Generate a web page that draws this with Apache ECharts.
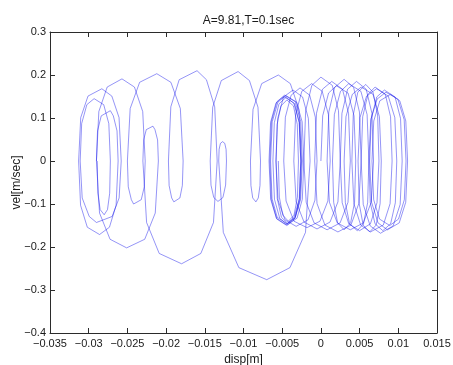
<!DOCTYPE html>
<html>
<head>
<meta charset="utf-8">
<script src="https://cdn.jsdelivr.net/npm/echarts@6/dist/echarts.min.js"></script>
<style>
  html, body { margin: 0; padding: 0; background: #fff; }
  #chart { width: 453px; height: 365px; }
</style>
</head>
<body>
<div id="chart"></div>
<script>
// Phase portrait: displacement [m] vs velocity [m/sec], A=9.81, T=0.1 sec.
const titleText = 'A=9.81,T=0.1sec';
const xName = 'disp[m]';
const yName = 'vel[m/sec]';

const X_MIN = -0.035, X_MAX = 0.015, X_STEP = 0.005;
const Y_MIN = -0.4, Y_MAX = 0.3, Y_STEP = 0.1;
const xTickLabels = ['\u22120.035', '\u22120.03', '\u22120.025', '\u22120.02', '\u22120.015', '\u22120.01', '\u22120.005', '0', '0.005', '0.01', '0.015'];
const yTickLabels = ['\u22120.4', '\u22120.3', '\u22120.2', '\u22120.1', '0', '0.1', '0.2', '0.3'];

// [disp, vel] samples, in time order.
// Cycles that creep to the right of the origin.
const driftOut = [
  [0, 0], [0.00023, 0.105], [0.00099, 0.158], [0.0020, 0.175], [0.00351, 0.158], [0.00428, 0.105],
  [0.0045, 0], [0.00435, -0.096], [0.00384, -0.144], [0.0030, -0.160], [0.00216, -0.144], [0.00165, -0.096],
  [0.0015, 0], [0.00174, 0.108], [0.00253, 0.162], [0.0036, 0.180], [0.00517, 0.162], [0.00597, 0.108],
  [0.0062, 0], [0.00604, -0.097], [0.0055, -0.146], [0.0047, -0.162], [0.0037, -0.146], [0.00316, -0.097],
  [0.0030, 0], [0.00324, 0.103], [0.00406, 0.155], [0.0052, 0.172], [0.00674, 0.155], [0.00756, 0.103],
  [0.0078, 0], [0.00765, -0.099], [0.00714, -0.149], [0.0063, -0.165], [0.00546, -0.149], [0.00495, -0.099],
  [0.0048, 0], [0.00505, 0.101], [0.0059, 0.151], [0.0072, 0.168], [0.0087, 0.151], [0.00955, 0.101],
  [0.0098, 0], [0.00962, -0.097], [0.00901, -0.146], [0.0080, -0.162], [0.00699, -0.146], [0.00638, -0.097],
  [0.0062, 0], [0.00644, 0.096], [0.00726, 0.144], [0.0084, 0.160], [0.00994, 0.144], [0.01076, 0.096],
  [0.0110, 0], [0.01078, -0.090], [0.01003, -0.135], [0.0089, -0.150], [0.00757, -0.135], [0.00682, -0.090],
  [0.0066, 0], [0.00683, 0.093], [0.00761, 0.140], [0.0090, 0.155], [0.01019, 0.140], [0.01097, 0.093],
  [0.0112, 0], [0.01096, -0.096], [0.01012, -0.144], [0.0086, -0.160], [0.00738, -0.144], [0.00655, -0.096],
  [0.0063, 0], [0.00651, 0.099], [0.00722, 0.149], [0.0082, 0.165], [0.00958, 0.149], [0.01029, 0.099],
  [0.0105, 0], [0.01024, -0.101], [0.00933, -0.151], [0.0077, -0.168], [0.00637, -0.151], [0.00547, -0.101],
  [0.0052, 0], [0.0054, 0.103], [0.00608, 0.155], [0.0070, 0.172], [0.00832, 0.155], [0.0090, 0.103],
  [0.0092, 0], [0.00894, -0.099], [0.00806, -0.149], [0.0064, -0.165], [0.00514, -0.149], [0.00426, -0.099]
];

// Cycles creeping back to the left.
const driftBack = [
  [0.0040, 0], [0.00418, 0.107], [0.00477, 0.160], [0.0058, 0.178], [0.00673, 0.160], [0.00733, 0.107],
  [0.0075, 0], [0.00725, -0.097], [0.0064, -0.146], [0.0050, -0.162], [0.0036, -0.146], [0.00275, -0.097],
  [0.0025, 0], [0.00272, 0.111], [0.00345, 0.167], [0.0046, 0.185], [0.00585, 0.167], [0.00659, 0.111],
  [0.0068, 0], [0.0065, -0.096], [0.00548, -0.144], [0.0038, -0.160], [0.00212, -0.144], [0.0011, -0.096],
  [0.0008, 0], [0.00102, 0.114], [0.00177, 0.171], [0.0030, 0.190], [0.00423, 0.171], [0.00498, 0.114],
  [0.0052, 0], [0.0049, -0.099], [0.00388, -0.149], [0.0022, -0.165], [0.00052, -0.149], [-0.0005, -0.099],
  [-0.0008, 0], [-0.00057, 0.111], [0.00021, 0.167], [0.0014, 0.185], [0.00279, 0.167], [0.00357, 0.111],
  [0.0038, 0], [0.0035, -0.096], [0.00248, -0.144], [0.0008, -0.160], [-0.00088, -0.144], [-0.0019, -0.096],
  [-0.0022, 0], [-0.00197, 0.117], [-0.00117, 0.176], [0, 0.195], [0.00147, 0.176], [0.00227, 0.117],
  [0.0025, 0], [0.0022, -0.095], [0.00118, -0.142], [-0.0005, -0.158], [-0.00218, -0.142], [-0.0032, -0.095],
  [-0.0035, 0], [-0.00327, 0.108], [-0.00247, 0.162], [-0.0012, 0.180], [0.00017, 0.162], [0.00097, 0.108],
  [0.0012, 0], [0.0009, -0.093], [-0.00012, -0.140], [-0.0018, -0.155], [-0.00348, -0.140], [-0.0045, -0.093],
  [-0.0048, 0], [-0.00459, 0.102], [-0.00385, 0.153], [-0.0027, 0.170], [-0.00145, 0.153], [-0.00072, 0.102],
  [-0.0005, 0], [-0.00077, -0.091], [-0.00167, -0.137], [-0.0032, -0.152], [-0.00463, -0.137], [-0.00554, -0.091],
  [-0.0058, 0], [-0.00558, 0.099], [-0.00483, 0.149], [-0.0036, 0.165], [-0.00237, 0.149], [-0.00162, 0.099]
];

// Large slip to the left and return.
const slipLoop = [
  [-0.0014, 0], [-0.00199, -0.166], [-0.0040, -0.248], [-0.0070, -0.276], [-0.0106, -0.248], [-0.01261, -0.166],
  [-0.0132, 0], [-0.01315, 0.027], [-0.01298, 0.041], [-0.0127, 0.045], [-0.01242, 0.041], [-0.01225, 0.027],
  [-0.0122, 0], [-0.01231, -0.056], [-0.01266, -0.085], [-0.0133, -0.094], [-0.01384, -0.085], [-0.0142, -0.056],
  [-0.0143, 0], [-0.01398, 0.125], [-0.01287, 0.187], [-0.0107, 0.208], [-0.00923, 0.187], [-0.00813, 0.125],
  [-0.0078, 0], [-0.00787, -0.057], [-0.00809, -0.086], [-0.0084, -0.095], [-0.00881, -0.086], [-0.00904, -0.057],
  [-0.0091, 0], [-0.00877, 0.120], [-0.00765, 0.180], [-0.0055, 0.200], [-0.00395, 0.180], [-0.00283, 0.120]
];

// Repeated cycles around -0.0045.
const settle = [
  [-0.0025, 0], [-0.00271, -0.090], [-0.0034, -0.135], [-0.0044, -0.150], [-0.0057, -0.135], [-0.0064, -0.090],
  [-0.0066, 0], [-0.00639, 0.092], [-0.00568, 0.138], [-0.0047, 0.153], [-0.00332, 0.138], [-0.00261, 0.092],
  [-0.0024, 0], [-0.00262, -0.089], [-0.00335, -0.133], [-0.0045, -0.148], [-0.00575, -0.133], [-0.00649, -0.089],
  [-0.0067, 0], [-0.0065, 0.090], [-0.0058, 0.135], [-0.0048, 0.150], [-0.0035, 0.135], [-0.00281, 0.090],
  [-0.0026, 0], [-0.0028, -0.088], [-0.00346, -0.131], [-0.0044, -0.146], [-0.00564, -0.131], [-0.00631, -0.088],
  [-0.0065, 0], [-0.00629, 0.091], [-0.00555, 0.137], [-0.0045, 0.152], [-0.00315, 0.137], [-0.00242, 0.091],
  [-0.0022, 0], [-0.0024, -0.089], [-0.00308, -0.133], [-0.0043, -0.148], [-0.00532, -0.133], [-0.0060, -0.089],
  [-0.0062, 0], [-0.00602, 0.089], [-0.00541, 0.133], [-0.0045, 0.148], [-0.00339, 0.133], [-0.00278, 0.089],
  [-0.0026, 0], [-0.00276, -0.087], [-0.0033, -0.131], [-0.0043, -0.145], [-0.0051, -0.131], [-0.00564, -0.087],
  [-0.0058, 0], [-0.00566, 0.085], [-0.00516, 0.128], [-0.0044, 0.142], [-0.00354, 0.128], [-0.00305, 0.085],
  [-0.0029, 0], [-0.00303, -0.084], [-0.00347, -0.126], [-0.0042, -0.140], [-0.00493, -0.126], [-0.00537, -0.084],
  [-0.0055, 0]
];

// Slips between -0.013 and -0.029.
const leftSweep = [
  [-0.0290, 0], [-0.02869, 0.115], [-0.02761, 0.172], [-0.0257, 0.191], [-0.02409, 0.172], [-0.02302, 0.115],
  [-0.0227, 0], [-0.02282, -0.060], [-0.02321, -0.090], [-0.0242, -0.100], [-0.02449, -0.090], [-0.02489, -0.060],
  [-0.0250, 0], [-0.02464, 0.122], [-0.02342, 0.183], [-0.0212, 0.203], [-0.01938, 0.183], [-0.01816, 0.122],
  [-0.0178, 0], [-0.0179, -0.057], [-0.01822, -0.086], [-0.0190, -0.095], [-0.01928, -0.086], [-0.01961, -0.057],
  [-0.0197, 0], [-0.01939, 0.126], [-0.01831, 0.189], [-0.0160, 0.210], [-0.01479, 0.189], [-0.01372, 0.126],
  [-0.0134, 0], [-0.01388, -0.143], [-0.01551, -0.215], [-0.0180, -0.239], [-0.02089, -0.215], [-0.02252, -0.143],
  [-0.0230, 0], [-0.0229, 0.049], [-0.02256, 0.073], [-0.0217, 0.081], [-0.02144, 0.073], [-0.0211, 0.049],
  [-0.0210, 0], [-0.0214, -0.121], [-0.02276, -0.182], [-0.0251, -0.202], [-0.02724, -0.182], [-0.0286, -0.121]
];

// Loops at the far left, around -0.029.
const leftLoops = [
  [-0.0290, 0], [-0.02886, 0.070], [-0.02838, 0.105], [-0.0272, 0.117], [-0.02682, 0.105], [-0.02634, 0.070],
  [-0.0262, 0], [-0.02646, -0.103], [-0.02732, -0.154], [-0.0286, -0.171], [-0.03018, -0.154], [-0.03105, -0.103],
  [-0.0313, 0], [-0.03103, 0.101], [-0.03009, 0.151], [-0.0283, 0.168], [-0.02701, 0.151], [-0.02608, 0.101],
  [-0.0258, 0], [-0.02607, -0.086], [-0.02697, -0.129], [-0.0290, -0.143], [-0.02993, -0.129], [-0.03084, -0.086],
  [-0.0311, 0], [-0.03091, 0.087], [-0.03024, 0.131], [-0.0293, 0.145], [-0.02806, 0.131], [-0.0274, 0.087],
  [-0.0272, 0], [-0.02729, -0.075], [-0.02757, -0.113], [-0.0280, -0.125], [-0.02852, -0.113], [-0.02882, -0.075],
  [-0.0289, 0]
];

const paths = [
  driftOut.concat(driftBack, slipLoop, settle),
  leftSweep.concat(leftLoops)
];

// Each cycle becomes its own stroke so overlapping cycles build up darker.
function cycles(path, size) {
  const out = [];
  for (let i = 0; i < path.length - 1; i += size) out.push(path.slice(i, i + size + 1));
  return out;
}

const LINE = { color: 'rgb(20,20,235)', width: 0.9, opacity: 0.5 };
const series = [];
paths.forEach(p => cycles(p, 12).forEach(seg => series.push({
  type: 'line',
  data: seg,
  showSymbol: false,
  silent: true,
  lineStyle: LINE,
  xAxisIndex: 0,
  yAxisIndex: 0
})));

const FONT = 'Liberation Sans, Arial, sans-serif';
const AXIS_COLOR = '#2b2b2b';
const TEXT_COLOR = '#1a1a1a';

const GRID = { left: 50, right: 16, top: 32, bottom: 32 };
const W = 453, H = 365;

function xAxisBase(pos, labels) {
  return {
    type: 'value', position: pos, min: X_MIN, max: X_MAX, interval: X_STEP,
    axisLine: { show: true, onZero: false, lineStyle: { color: AXIS_COLOR, width: 1 } },
    axisTick: { show: true, inside: true, length: 5, lineStyle: { color: AXIS_COLOR } },
    splitLine: { show: false },
    axisLabel: labels ? {
      show: true, margin: 5, color: TEXT_COLOR, fontFamily: FONT, fontSize: 11,
      showMinLabel: true, showMaxLabel: true,
      formatter: v => xTickLabels[Math.round((v - X_MIN) / X_STEP)]
    } : { show: false }
  };
}
function yAxisBase(pos, labels) {
  return {
    type: 'value', position: pos, min: Y_MIN, max: Y_MAX, interval: Y_STEP,
    axisLine: { show: true, onZero: false, lineStyle: { color: AXIS_COLOR, width: 1 } },
    axisTick: { show: true, inside: true, length: 5, lineStyle: { color: AXIS_COLOR } },
    splitLine: { show: false },
    axisLabel: labels ? {
      show: true, margin: 4, color: TEXT_COLOR, fontFamily: FONT, fontSize: 11,
      showMinLabel: true, showMaxLabel: true,
      formatter: v => yTickLabels[Math.round((v - Y_MIN) / Y_STEP)]
    } : { show: false }
  };
}

const xBottom = Object.assign(xAxisBase('bottom', true), {
  name: xName, nameLocation: 'middle', nameGap: 17,
  nameTextStyle: { color: TEXT_COLOR, fontFamily: FONT, fontSize: 12 }
});

const chart = echarts.init(document.getElementById('chart'), null, { renderer: 'canvas' });
chart.setOption({
  animation: false,
  backgroundColor: '#ffffff',
  title: {
    text: titleText, left: 243.5, top: 10, textAlign: 'center',
    textStyle: { color: TEXT_COLOR, fontFamily: FONT, fontSize: 12, fontWeight: 'normal' }
  },
  grid: Object.assign({ containLabel: false, outerBoundsMode: 'none' }, GRID),
  xAxis: [xBottom, xAxisBase('top', false)],
  yAxis: [yAxisBase('left', true), yAxisBase('right', false)],
  // vertical axis title, centred on the plot's height
  graphic: [{
    type: 'text',
    x: 17,
    y: GRID.top + (H - GRID.top - GRID.bottom) / 2,
    rotation: Math.PI / 2,
    style: {
      text: yName, fill: TEXT_COLOR, font: '12px ' + FONT,
      align: 'center', verticalAlign: 'middle'
    }
  }],
  series: series
});
</script>
</body>
</html>
